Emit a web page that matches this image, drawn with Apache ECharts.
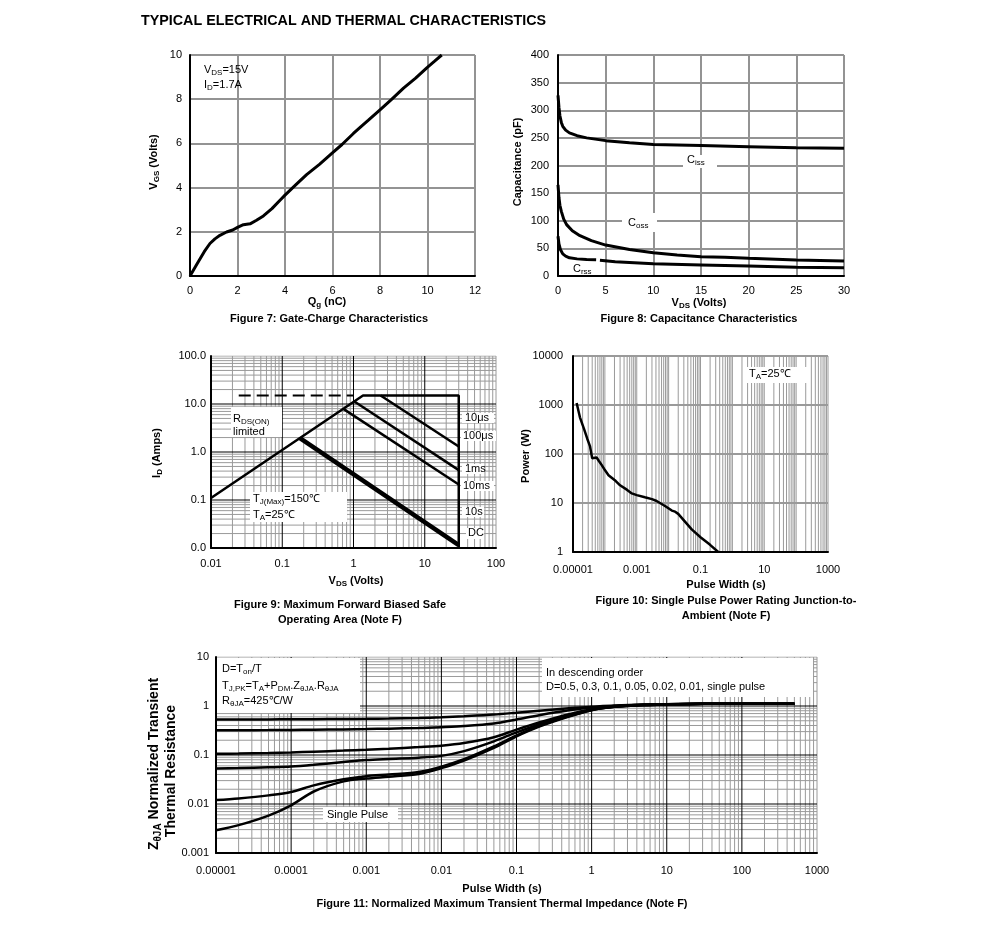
<!DOCTYPE html>
<html><head><meta charset="utf-8">
<script src="https://cdn.jsdelivr.net/npm/echarts@6/dist/echarts.min.js"></script>
<style>html,body{margin:0;padding:0;background:#fff}#c{width:991px;height:940px}</style>
</head><body><div id="c"></div>
<script>
// ---------- Figure 7: gate charge ----------
const qgNC     = [0, 0.3, 0.6, 0.84, 1.05, 1.26, 1.54, 1.8, 2.0, 2.25, 2.53, 2.8, 3.09, 3.45, 3.79, 4.0, 4.45, 4.91, 5.45, 5.96, 6.4, 6.88, 7.2, 7.5, 8.0, 8.5, 8.99, 9.5, 9.97, 10.3, 10.6];
const vgsVolts = [0, 0.55, 1.1, 1.47, 1.68, 1.84, 1.99, 2.08, 2.2, 2.32, 2.36, 2.52, 2.72, 3.05, 3.43, 3.66, 4.12, 4.59, 5.05, 5.54, 5.95, 6.45, 6.76, 7.04, 7.52, 8.0, 8.5, 8.95, 9.42, 9.72, 10.0];
// ---------- Figure 8: capacitance ----------
const cissVds = [0, 0.1, 0.2, 0.35, 0.5, 0.8, 1.2, 2, 3, 5, 7.5, 10, 15, 20, 25, 30];
const cissPF  = [327, 305, 290, 278, 271, 264, 259, 254, 250, 245, 241, 238, 236, 234, 232, 231];
const cossVds = [0, 0.1, 0.2, 0.35, 0.6, 0.9, 1.5, 2.3, 3.5, 5, 7.5, 10, 12.5, 15, 17.5, 20, 25, 30];
const cossPF  = [165, 142, 128, 117, 103, 93, 82, 73, 64, 56, 48, 42, 38, 35, 34, 32, 29, 27];
const crssVds = [0, 0.1, 0.25, 0.5, 0.8, 1.2, 2, 3, 4, 4.2, 4.4, 6, 8, 10, 15, 20, 25, 30];
const crssPF  = [72, 58, 48, 40, 36, 33, 31, 30, 29.5, null, 28.5, 26, 24, 22, 20, 18, 16, 15];
// ---------- Figure 9: safe operating area ----------
const soaOutlineV = [0.01, 1.36, 30, 30];
const soaOutlineI = [0.11, 15, 15, 0.01];
const soa100usV = [2.4, 30];   const soa100usI = [15, 1.3];
const soa1msV   = [1.03, 30];  const soa1msI   = [11.3, 0.42];
const soa10msV  = [0.72, 30];  const soa10msI  = [7.9, 0.21];
const soaDcV    = [0.177, 30]; const soaDcI    = [1.95, 0.0115];
const soaDashV  = [0.0245, 1.0]; const soaDashI = [15, 15];
const soaLabels = ['10μs', '100μs', '1ms', '10ms', '10s', 'DC'];
// ---------- Figure 10: single pulse power ----------
const ppT = [1.3e-5, 1.65e-5, 2.2e-5, 2.8e-5, 3.4e-5, 4.0e-5, 4.6e-5, 5.5e-5, 6.5e-5, 7.9e-5, 1.0e-4, 1.3e-4, 2.2e-4, 3.0e-4, 5e-4, 7e-4, 1e-3, 1.8e-3, 3e-3, 4.2e-3, 7.7e-3, 0.0126, 0.016, 0.02, 0.053, 0.1, 0.2, 0.36];
const ppW = [1100, 560, 330, 205, 145, 82, 80, 85, 72, 60, 47, 37, 28, 23, 18.5, 15.7, 14.5, 13.1, 12, 11, 8.7, 7.0, 6.65, 6.0, 2.9, 2.0, 1.4, 1.0];
// ---------- Figure 11: transient thermal impedance ----------
const zthT   = [1e-5, 2e-5, 5e-5, 1e-4, 2e-4, 5e-4, 1e-3, 2e-3, 5e-3, 0.01, 0.02, 0.05, 0.1, 0.2, 0.5, 1, 2, 5, 10, 20, 50, 100, 200, 500];
const zthD05 = [0.53, 0.53, 0.532, 0.535, 0.538, 0.543, 0.548, 0.555, 0.57, 0.59, 0.62, 0.67, 0.73, 0.8, 0.9, 0.96, 1.02, 1.07, 1.09, 1.1, 1.11, 1.11, 1.11, 1.11];
const zthD03 = [0.32, 0.32, 0.322, 0.325, 0.328, 0.333, 0.338, 0.345, 0.355, 0.37, 0.39, 0.44, 0.53, 0.65, 0.82, 0.93, 1.0, 1.06, 1.09, 1.1, 1.11, 1.11, 1.11, 1.11];
const zthD01 = [0.106, 0.107, 0.11, 0.113, 0.117, 0.123, 0.128, 0.134, 0.145, 0.155, 0.175, 0.23, 0.33, 0.46, 0.68, 0.86, 0.98, 1.05, 1.08, 1.1, 1.11, 1.11, 1.11, 1.11];
const zthD005= [0.053, 0.054, 0.056, 0.058, 0.063, 0.072, 0.079, 0.083, 0.088, 0.096, 0.12, 0.19, 0.29, 0.42, 0.65, 0.84, 0.97, 1.05, 1.08, 1.1, 1.11, 1.11, 1.11, 1.11];
const zthD001= [0.012, 0.013, 0.015, 0.0175, 0.024, 0.032, 0.037, 0.04, 0.045, 0.058, 0.082, 0.15, 0.25, 0.39, 0.62, 0.83, 0.96, 1.05, 1.08, 1.1, 1.11, 1.11, 1.11, 1.11];
const zthSP  = [0.0029, 0.0037, 0.0058, 0.0094, 0.018, 0.029, 0.033, 0.036, 0.041, 0.054, 0.077, 0.14, 0.24, 0.38, 0.61, 0.82, 0.96, 1.05, 1.08, 1.1, 1.11, 1.11, 1.11, 1.11];

const FF = '"Liberation Sans", Arial, Helvetica, sans-serif';
const zip = (a, b) => a.map((v, i) => [v, b[i]]);

function fmtLog(v) {
  const e = Math.round(Math.log10(v));
  return e < 0 ? Math.pow(10, e).toFixed(-e) : String(Math.round(Math.pow(10, e)));
}
// gridline positions on a log axis: {v, kind: 'major'|'minor'|'edge'}
function logVals(min, max) {
  const out = [];
  const e0 = Math.round(Math.log10(min)), e1 = Math.round(Math.log10(max));
  for (let e = e0; e < e1; e++) for (let k = 1; k < 10; k++) {
    const v = +(k * Math.pow(10, e)).toPrecision(3);
    if (v > min * 1.0001) out.push({ v, kind: k === 1 ? 'major' : 'minor' });
  }
  out.push({ v: max, kind: 'edge' });
  return out;
}
// gridlines drawn as a broken line series on the chart's own axes
function gridLines(idx, xVals, yVals, xr, yr, ls) {
  const d = [];
  xVals.forEach(v => { d.push([v, yr[0]], [v, yr[1]], [v, null]); });
  yVals.forEach(v => { d.push([xr[0], v], [xr[1], v], [null, v]); });
  return { type: 'line', xAxisIndex: idx, yAxisIndex: idx, data: d, symbol: 'none', showSymbol: false,
    z: 1, silent: true, connectNulls: false, lineStyle: Object.assign({ type: 'solid' }, ls) };
}
const pick = (arr, kinds) => arr.filter(o => kinds.indexOf(o.kind) >= 0).map(o => o.v);
function line(idx, xs, ys, w, extra) {
  return Object.assign({
    type: 'line', xAxisIndex: idx, yAxisIndex: idx, data: zip(xs, ys), symbol: 'none', showSymbol: false,
    z: 3, silent: true, connectNulls: false, lineStyle: { color: '#000', width: w }, itemStyle: { color: '#000' }
  }, extra || {});
}
const axLine = { show: true, lineStyle: { color: '#000', width: 2 } };
const lbl = (m, f) => ({ color: '#000', fontSize: 11, fontFamily: FF, margin: m, formatter: f });
function valAxis(idx, min, max, interval, m) {
  return { gridIndex: idx, type: 'value', min, max, interval, z: 2, axisLine: axLine, axisTick: { show: false },
    axisLabel: lbl(m), splitLine: { show: true, lineStyle: { color: '#939393', width: 2 } } };
}
function logAxis(idx, min, max, m, f) {
  return { gridIndex: idx, type: 'log', logBase: 10, min, max, z: 2, axisLine: axLine, axisTick: { show: false },
    axisLabel: lbl(m, f || fmtLog), splitLine: { show: false }, minorSplitLine: { show: false } };
}
function rich(s) {
  return s.split(/(_\{[^}]*\})/).filter(p => p).map(p => p.startsWith('_{') ? '{s|' + p.slice(2, -1) + '}' : '{n|' + p + '}').join('');
}
function T(x, y, s, o) {
  o = o || {};
  const fs = o.fs || 11, fw = o.bold ? 'bold' : 'normal';
  const al = o.align || 'left';
  return {
    type: 'text', x, y, rotation: o.rot ? Math.PI / 2 : 0, z: 100, silent: true,
    style: {
      text: rich(s), align: al, verticalAlign: 'middle', fill: '#000',
      rich: {
        n: { fontSize: fs, fontWeight: fw, fontFamily: FF, lineHeight: Math.round(fs * 1.3), fill: '#000', verticalAlign: 'middle' },
        s: { fontSize: Math.round(fs * 0.72), fontWeight: fw, fontFamily: FF, lineHeight: Math.round(fs * 0.8), fill: '#000', verticalAlign: 'bottom' }
      }
    }
  };
}
function R(x1, y1, x2, y2) {
  return { type: 'rect', z: 90, silent: true, shape: { x: x1, y: y1, width: x2 - x1, height: y2 - y1 }, style: { fill: '#fff' } };
}

const G = '#9a9a9a';
const g9x = logVals(0.01, 100), g9y = logVals(0.01, 100);
const g10x = logVals(1e-5, 1000), g10y = logVals(1, 10000);
const g11x = logVals(1e-5, 1000), g11y = logVals(0.001, 10);

const option = {
  animation: false,
  backgroundColor: '#fff',
  grid: [
    { left: 190, top: 55, width: 285, height: 221, containLabel: false },
    { left: 558, top: 55, width: 286, height: 221, containLabel: false },
    { left: 211, top: 356, width: 285, height: 192, containLabel: false },
    { left: 573, top: 356, width: 255, height: 196, containLabel: false },
    { left: 216, top: 657, width: 601, height: 196, containLabel: false }
  ],
  xAxis: [
    valAxis(0, 0, 12, 2, 9),
    valAxis(1, 0, 30, 5, 9),
    logAxis(2, 0.01, 100, 10),
    logAxis(3, 1e-5, 1000, 12, v => (Math.round(Math.log10(v)) % 2 !== 0 ? fmtLog(v) : '')),
    logAxis(4, 1e-5, 1000, 12)
  ],
  yAxis: [
    valAxis(0, 0, 10, 2, 8),
    valAxis(1, 0, 400, 50, 9),
    logAxis(2, 0.01, 100, 5, v => { const p = Math.pow(10, Math.round(Math.log10(v))); return p < 0.05 ? '0.0' : p.toFixed(1); }),
    logAxis(3, 1, 10000, 10),
    logAxis(4, 0.001, 10, 7)
  ],
  series: [
    gridLines(2, pick(g9x, ['minor', 'edge']), pick(g9y, ['minor', 'edge']), [0.01, 100], [0.01, 100], { color: G, width: 1 }),
    gridLines(2, pick(g9x, ['major']), pick(g9y, ['major']), [0.01, 100], [0.01, 100], { color: '#000', width: 1 }),
    gridLines(3, pick(g10x, ['minor', 'edge', 'major']), [], [1e-5, 1000], [1, 10000], { color: G, width: 1 }),
    gridLines(3, [], pick(g10y, ['major', 'edge']), [1e-5, 1000], [1, 10000], { color: G, width: 2 }),
    gridLines(4, pick(g11x, ['minor', 'edge']), pick(g11y, ['minor', 'edge']), [1e-5, 1000], [0.001, 10], { color: G, width: 1 }),
    gridLines(4, pick(g11x, ['major']), pick(g11y, ['major']), [1e-5, 1000], [0.001, 10], { color: '#000', width: 1 }),
    line(0, qgNC, vgsVolts, 3),
    line(1, cissVds, cissPF, 3),
    line(1, cossVds, cossPF, 3),
    line(1, crssVds, crssPF, 3),
    line(2, soaOutlineV, soaOutlineI, 2.5),
    line(2, soa100usV, soa100usI, 2.5),
    line(2, soa1msV, soa1msI, 2.5),
    line(2, soa10msV, soa10msI, 2.5),
    line(2, soaDcV, soaDcI, 4.5),
    line(2, soaDashV, soaDashI, 2, { lineStyle: { color: '#000', width: 2, type: [12, 6] } }),
    line(3, ppT, ppW, 2.5),
    line(4, zthT, zthD05, 2.5, { smooth: 0.3 }),
    line(4, zthT, zthD03, 2.5, { smooth: 0.3 }),
    line(4, zthT, zthD01, 2.5, { smooth: 0.3 }),
    line(4, zthT, zthD005, 2.5, { smooth: 0.3 }),
    line(4, zthT, zthD001, 2.5, { smooth: 0.3 }),
    line(4, zthT, zthSP, 2.5, { smooth: 0.3 })
  ],
  graphic: { elements: [
    T(141, 21, 'TYPICAL ELECTRICAL AND THERMAL CHARACTERISTICS', { bold: true, fs: 14.3 }),
    // fig 7
    T(204, 70, 'V_{DS}=15V'), T(204, 85, 'I_{D}=1.7A'),
    T(154, 162, 'V_{GS} (Volts)', { bold: true, rot: true, align: 'center' }),
    T(327, 302, 'Q_{g} (nC)', { bold: true, align: 'center' }),
    T(329, 319, 'Figure 7: Gate-Charge Characteristics', { bold: true, align: 'center' }),
    // fig 8
    R(683, 155, 717, 168), T(687, 160, 'C_{iss}'),
    R(622, 213, 657, 232), T(628, 223, 'C_{oss}'),
    R(570, 263, 593, 275), T(573, 269, 'C_{rss}'),
    T(518, 162, 'Capacitance (pF)', { bold: true, rot: true, align: 'center' }),
    T(699, 303, 'V_{DS} (Volts)', { bold: true, align: 'center' }),
    T(699, 319, 'Figure 8: Capacitance Characteristics', { bold: true, align: 'center' }),
    // fig 9
    R(231, 407, 282, 437), T(233, 419, 'R_{DS(ON)}'), T(233, 432, 'limited'),
    R(250, 492, 347, 522), T(253, 499, 'T_{J(Max)}=150℃'), T(253, 515, 'T_{A}=25℃'),
    R(462, 413, 494, 423), T(465, 418, soaLabels[0]),
    R(461, 431, 496, 441), T(463, 436, soaLabels[1]),
    R(462, 464, 484, 474), T(465, 469, soaLabels[2]),
    R(461, 481, 494, 491), T(463, 486, soaLabels[3]),
    R(462, 507, 484, 517), T(465, 512, soaLabels[4]),
    R(466, 528, 484, 539), T(468, 533, soaLabels[5]),
    T(157, 453, 'I_{D} (Amps)', { bold: true, rot: true, align: 'center' }),
    T(356, 581, 'V_{DS} (Volts)', { bold: true, align: 'center' }),
    T(340, 605, 'Figure 9: Maximum Forward Biased Safe', { bold: true, align: 'center' }),
    T(340, 620, 'Operating Area (Note F)', { bold: true, align: 'center' }),
    // fig 10
    R(747, 367, 807, 383), T(749, 374, 'T_{A}=25℃'),
    T(526, 456, 'Power (W)', { bold: true, rot: true, align: 'center' }),
    T(726, 585, 'Pulse Width (s)', { bold: true, align: 'center' }),
    T(726, 601, 'Figure 10: Single Pulse Power Rating Junction-to-', { bold: true, align: 'center' }),
    T(726, 616, 'Ambient (Note F)', { bold: true, align: 'center' }),
    // fig 11
    R(217, 658, 360, 713),
    T(222, 669, 'D=T_{on}/T'), T(222, 686, 'T_{J,PK}=T_{A}+P_{DM}.Z_{θJA}.R_{θJA}'), T(222, 701, 'R_{θJA}=425℃/W'),
    R(542, 658, 813, 697),
    T(546, 673, 'In descending order'), T(546, 687, 'D=0.5, 0.3, 0.1, 0.05, 0.02, 0.01, single pulse'),
    R(323, 807, 398, 822), T(327, 815, 'Single Pulse'),
    T(154, 764, 'Z_{θJA} Normalized Transient', { bold: true, rot: true, align: 'center', fs: 14 }),
    T(171, 771, 'Thermal Resistance', { bold: true, rot: true, align: 'center', fs: 14 }),
    T(502, 889, 'Pulse Width (s)', { bold: true, align: 'center' }),
    T(502, 904, 'Figure 11: Normalized Maximum Transient Thermal Impedance (Note F)', { bold: true, align: 'center' })
  ] }
};
const chart = echarts.init(document.getElementById('c'), null, { renderer: 'canvas' });
chart.setOption(option);
</script>
</body></html>
